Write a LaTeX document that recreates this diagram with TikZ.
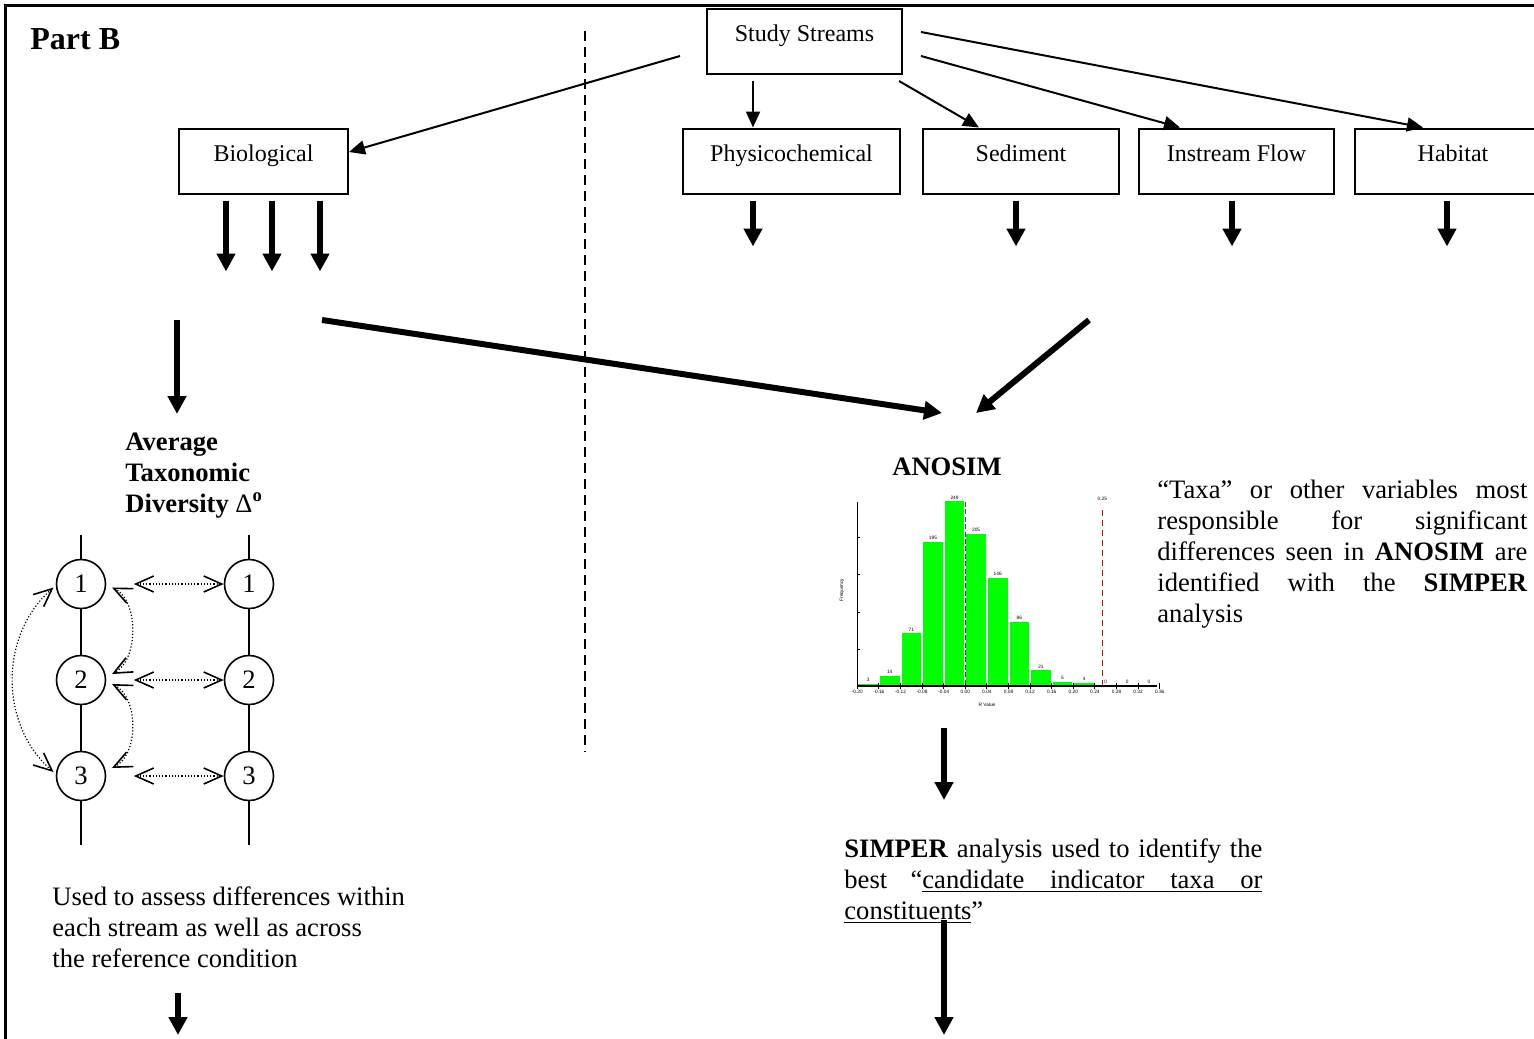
\documentclass[tikz,border=0pt]{standalone}
\usepackage{fontspec}
\setmainfont{Liberation Serif}
\newfontfamily\hsans{Liberation Sans}
\usetikzlibrary{arrows.meta,calc}
\definecolor{hgreen}{RGB}{0,255,0}
\definecolor{hred}{RGB}{180,20,20}
\begin{document}
\begin{tikzpicture}[x=0.5pt,y=-0.5pt,
  box/.style={draw, line width=1pt, rectangle, minimum height=32.5pt, inner sep=0pt,
    font=\fontsize{12}{14}\selectfont, text height=5pt, text depth=5pt},
  thinarrow/.style={line width=1pt, -{Triangle[length=8pt,width=7pt]}},
  bigarrow/.style={line width=3pt, -{Triangle[length=9pt,width=9pt]}},
  body/.style={inner sep=0pt, font=\fontsize{13.3}{15.5}\selectfont},
  circ/.style={circle, draw, line width=0.8pt, minimum size=24.5pt, inner sep=0pt,
    font=\fontsize{13.3}{15.5}\selectfont},
  chainline/.style={line width=1pt},
  dotarrow/.style={line width=0.6pt, densely dotted,
    {Straight Barb[length=9pt,width=8pt,line width=0.8pt]}-{Straight Barb[length=9pt,width=8pt,line width=0.8pt]}},
  hlab/.style={inner sep=0pt, font=\hsans\fontsize{2.4}{2.8}\selectfont},
]
\useasboundingbox (0,0) rectangle (1534,1038);
% frame
\draw[line width=1.5pt] (5,1045) -- (5,6) -- (1545,6);
% dashed separator
\draw[line width=1pt, dash pattern=on 5pt off 3pt] (585,31) -- (585,752);

\node[anchor=base west, inner sep=0pt, font=\bfseries\fontsize{16}{19}\selectfont] (partb) at (30,50) {Part B};

% boxes
\node[box, minimum width=97.5pt] (ss) at (804.5,41.5) {Study Streams};
\node[box, minimum width=84.5pt] (bio) at (263.5,161) {Biological};
\node[box, minimum width=108.5pt] (phys) at (791.5,161) {Physicochemical};
\node[box, minimum width=98pt] (sed) at (1021,161) {Sediment};
\node[box, minimum width=97.5pt] (inst) at (1236.5,161) {Instream Flow};
\node[box, minimum width=98pt] (hab) at (1453,161) {Habitat};

% thin arrows from Study Streams
\draw[thinarrow] ($(ss.west)+(-26,14.5)$) -- ($(bio.east)+(0,-9)$);
\draw[thinarrow] ($(ss.south west)+(47,6)$) -- ($(phys.north west)+(71,0)$);
\draw[thinarrow] ($(ss.south east)+(-4,6)$) -- ($(sed.north west)+(57,0)$);
\draw[thinarrow] ($(ss.east)+(18,14.5)$) -- ($(inst.north west)+(42,0)$);
\draw[thinarrow] ($(ss.east)+(18,-9.5)$) -- ($(hab.north west)+(69,0)$);

% thick arrows below boxes
\foreach \dx [count=\n] in {-37.5,8.5,56.5} {
  \coordinate (bs\n) at ($(bio.south)+(\dx,6)$);
  \coordinate (be\n) at ($(bio.south)+(\dx,77)$);
  \draw[bigarrow] (bs\n) -- (be\n);
}
\coordinate (ps) at ($(phys.south west)+(71,6)$);
\coordinate (pe) at ($(phys.south west)+(71,52)$);
\draw[bigarrow] (ps) -- (pe);
\coordinate (sds) at ($(sed.south west)+(94,6)$);
\coordinate (sde) at ($(sed.south west)+(94,52)$);
\draw[bigarrow] (sds) -- (sde);
\coordinate (is) at ($(inst.south west)+(94,6)$);
\coordinate (ie) at ($(inst.south west)+(94,52)$);
\draw[bigarrow] (is) -- (ie);
\coordinate (hs) at ($(hab.south west)+(93,6)$);
\coordinate (he) at ($(hab.south west)+(93,52)$);
\draw[bigarrow] (hs) -- (he);

% texts
\node[anchor=base west, body, font=\bfseries\fontsize{13.3}{15.5}\selectfont] (atd) at (125,450)
  {\begin{tabular}[t]{@{}l@{}}Average\\ Taxonomic\\ Diversity {\mdseries Δ}\textsuperscript{o}\end{tabular}};
\node[anchor=base, body, font=\bfseries\fontsize{13.3}{15.5}\selectfont] (anosim) at (947,475) {ANOSIM};
\node[anchor=base west, body] (taxa) at (1157,498)
  {\begin{tabular}[t]{@{}l@{}}\makebox[185pt][s]{“Taxa” or other variables most}\\
   \makebox[185pt][s]{responsible for significant}\\
   \makebox[185pt][s]{differences seen in \textbf{ANOSIM} are}\\
   \makebox[185pt][s]{identified with the \textbf{SIMPER}}\\
   analysis\end{tabular}};
\node[anchor=base west, body] (simper) at (844,857)
  {\begin{tabular}[t]{@{}l@{}}\makebox[209pt][s]{\textbf{SIMPER} analysis used to identify the}\\
   \makebox[209pt][s]{best\hfill“\underline{\makebox[170pt][s]{candidate indicator taxa or}}}\\
   \underline{constituents}”\end{tabular}};
\node[anchor=base west, body] (used) at (52,905)
  {\begin{tabular}[t]{@{}l@{}}Used to assess differences within\\ each stream as well as across\\ the reference condition\end{tabular}};

% big arrows in the middle
\coordinate (a1s) at (177,320); \coordinate (a1e) at (177,414);
\draw[bigarrow] (a1s) -- (a1e);
\coordinate (a2s) at (322,320); \coordinate (a2e) at (942,413);
\draw[bigarrow] (a2s) -- (a2e);
\coordinate (a3s) at (1089,320); \coordinate (a3e) at (976,413);
\draw[bigarrow] (a3s) -- (a3e);
\coordinate (a4s) at (944,728); \coordinate (a4e) at (944,800);
\draw[bigarrow] (a4s) -- (a4e);
\coordinate (a5s) at (944,920); \coordinate (a5e) at (944,1035);
\draw[bigarrow] (a5s) -- (a5e);
\coordinate (a6s) at (178,993); \coordinate (a6e) at (178,1035);
\draw[bigarrow] (a6s) -- (a6e);

% chains
\node[circ] (L1) at (81,584) {1};
\node[circ] (L2) at (81,680) {2};
\node[circ] (L3) at (81,776) {3};
\node[circ] (R1) at (249,584) {1};
\node[circ] (R2) at (249,680) {2};
\node[circ] (R3) at (249,776) {3};
\coordinate (Ltop) at (81,535); \coordinate (Lbot) at (81,845);
\coordinate (Rtop) at (249,535); \coordinate (Rbot) at (249,845);
\draw[chainline] (Ltop) -- (L1) -- (L2) -- (L3) -- (Lbot);
\draw[chainline] (Rtop) -- (R1) -- (R2) -- (R3) -- (Rbot);
\foreach \k in {1,2,3} {
  \draw[dotarrow] ($(L\k.east)+(27.5,0)$) -- (R\k.west);
}
\draw[dotarrow] ($(L1)+(-27.5,3.5)$) .. controls (-1,635) and (-1,725) .. ($(L3)+(-27.5,-4)$);
\draw[dotarrow] ($(L1)+(31,3.5)$) .. controls (139,600) and (139,660) .. ($(L2)+(31,-6)$);
\draw[dotarrow] ($(L2)+(31,4)$) .. controls (139,697) and (139,755) .. ($(L3)+(31,-8)$);

% histogram
\foreach \c [count=\i from 0] in {3,14,71,195,249,205,146,86,21,5,4,0,0,0} {
  \pgfmathsetmacro\xl{857.3+21.6*\i+1}
  \pgfmathsetmacro\xr{857.3+21.6*(\i+1)-1}
  \pgfmathsetmacro\yt{686-0.741*\c}
  \ifnum\c>0 \fill[hgreen] (\xl,686) rectangle (\xr,\yt); \fi
  \node[hlab, name=hl\i] at ({(\xl+\xr)/2},{\yt-4}) {\c};
}
\draw[line width=0.8pt, dash pattern=on 2.5pt off 1.2pt, black!70] (965.3,502) -- (965.3,686);
\draw[line width=0.6pt, dash pattern=on 3pt off 2pt, hred] (1102.3,510) -- (1102.3,686);
\node[hlab] (rval) at (1102.3,499) {0.25};
\draw[line width=0.8pt] (857.3,501.7) -- (857.3,686) -- (1157,686);
\foreach \k in {1,2,3,4} {
  \draw[line width=0.4pt] (857.3,{686-37.05*\k}) -- (859.5,{686-37.05*\k});
}
\foreach \l [count=\k from 0] in {-0.20,-0.16,-0.12,-0.08,-0.04,0.00,0.04,0.08,0.12,0.16,0.20,0.24,0.28,0.32,0.36} {
  \draw[line width=0.5pt] ({857.3+21.6*\k},683) -- ({857.3+21.6*\k},689);
  \node[hlab, name=tk\k] at ({857.3+21.6*\k},692) {\l};
}
\node[hlab, rotate=90] (freq) at (842,590) {Frequency};
\node[hlab] (rv) at (987,705) {R Value};
\end{tikzpicture}
\end{document}
